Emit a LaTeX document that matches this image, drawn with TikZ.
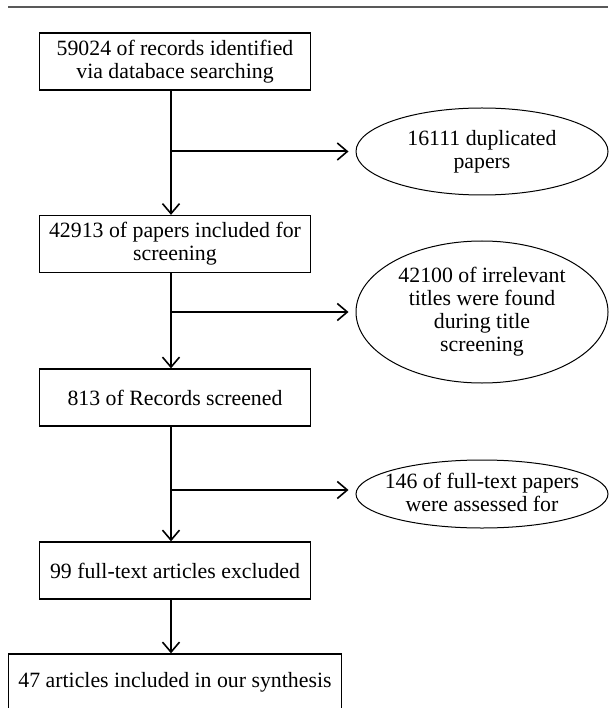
\documentclass[tikz,border=0pt]{standalone}
\usepackage{fontspec}
\setmainfont{Liberation Serif}
\usetikzlibrary{shapes.geometric,arrows.meta}
\begin{document}
\begin{tikzpicture}[x=1pt,y=-1pt,
  txt/.style={align=center, font=\fontsize{21.8}{23}\selectfont},
  box/.style={draw=black, line width=1.3pt, minimum height=57pt, inner sep=0pt, txt},
  oval/.style={draw=black, ellipse, line width=1pt, minimum width=252pt, inner sep=0pt},
  flow/.style={line width=2pt, -{Straight Barb[length=10pt,width=17pt,line width=1.6pt]}}
]
\useasboundingbox (0,0) rectangle (608,708);
\draw[line width=1.5pt, draw=black!65] (8,7) -- (608,7);
\node[box, minimum width=271pt] (b1) at (175,61.5) {59024 of records identified\\via databace searching};
\node[box, minimum width=271pt] (b2) at (175,244) {42913 of papers included for\\screening};
\node[box, minimum width=271pt] (b3) at (175,397.5) {813 of Records screened};
\node[box, minimum width=271pt] (b4) at (175,570.5) {99 full-text articles excluded};
\node[box, minimum width=333pt] (b5) at (175,682.5) {47 articles included in our synthesis};
\node[oval, minimum height=87pt] (e1) at (482,151.5) {};
\node[txt] (t1) at (e1.center) {16111 duplicated\\papers};
\node[oval, minimum height=142pt] (e2) at (482,312) {};
\node[txt] (t2) at (e2.center) {42100 of irrelevant\\titles were found\\during title\\screening};
\node[oval, minimum height=68pt] (e3) at (482,494) {};
\node[txt] (t3) at ([yshift=2pt]e3.center) {146 of full-text papers\\were assessed for};
\coordinate (x) at (171,0);
\coordinate (j1) at (171,151.5);
\coordinate (j2) at (171,312);
\coordinate (j3) at (171,490);
\draw[flow] (b1.south -| x) -- (b2.north -| x);
\draw[flow] (b2.south -| x) -- (b3.north -| x);
\draw[flow] (b3.south -| x) -- (b4.north -| x);
\draw[flow] (b4.south -| x) -- (b5.north -| x);
\draw[flow, shorten >=7pt] (j1) -- (j1 -| e1.west);
\draw[flow, shorten >=7pt] (j2) -- (j2 -| e2.west);
\draw[flow, shorten >=7pt] (j3) -- (j3 -| e3.west);
\end{tikzpicture}
\end{document}
